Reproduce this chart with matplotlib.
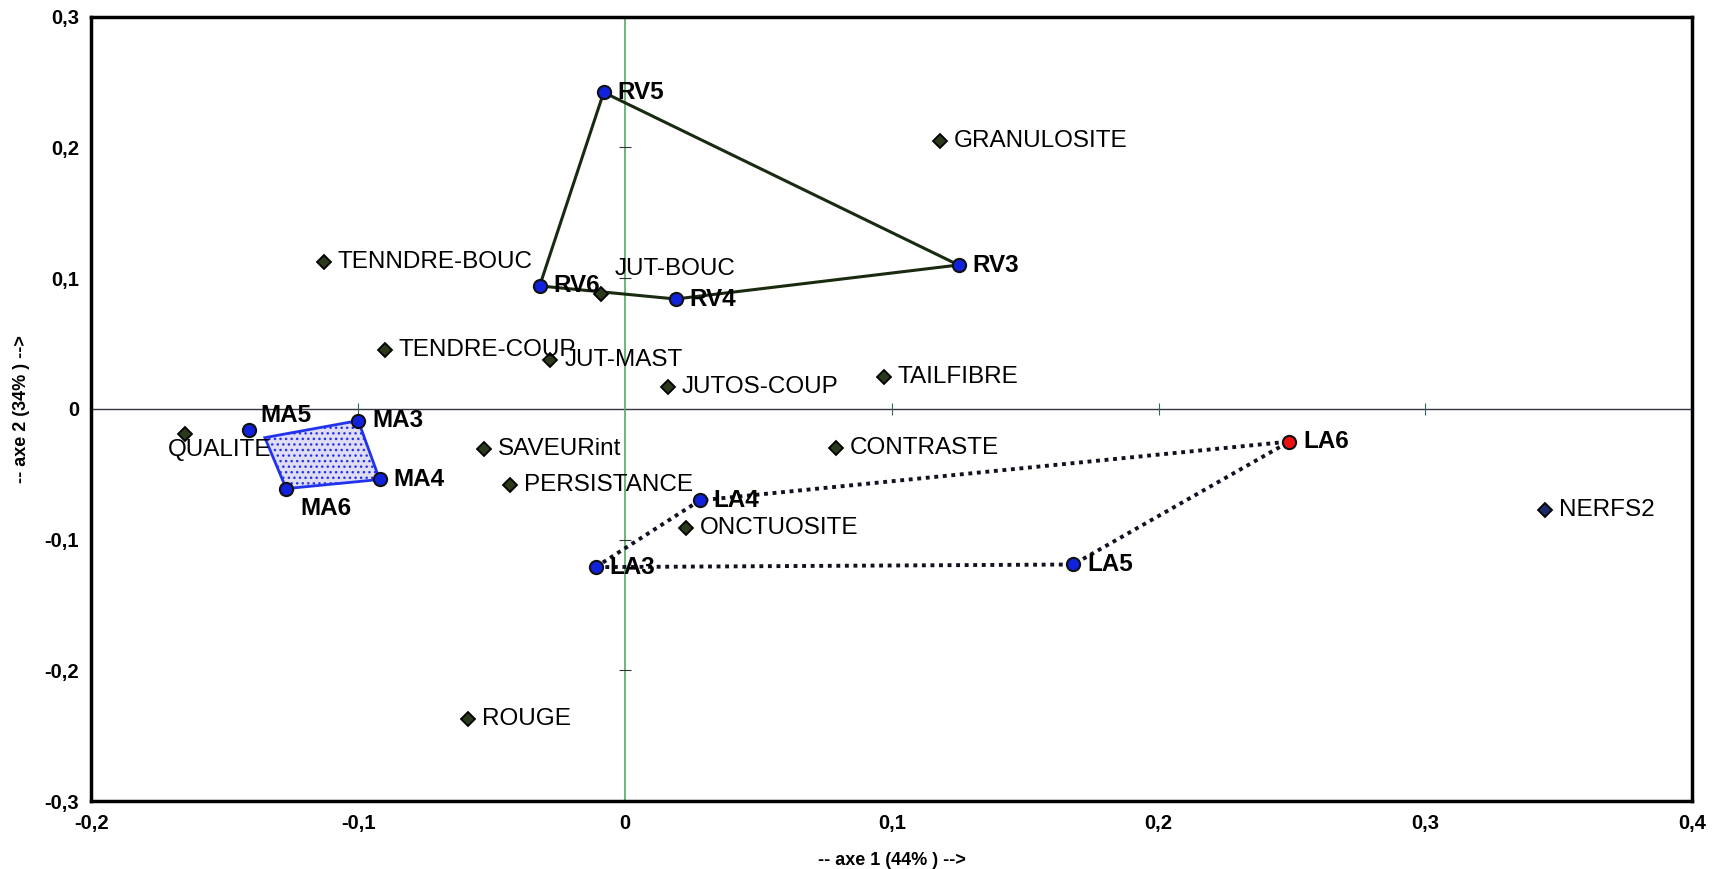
import matplotlib.pyplot as plt
from matplotlib.patches import Polygon

# --- data (axe 1, axe 2) ---
rv_names = ['RV5', 'RV3', 'RV4', 'RV6']
rv_x = [-0.008, 0.125, 0.019, -0.032]
rv_y = [0.242, 0.110, 0.084, 0.094]

ma_names = ['MA5', 'MA3', 'MA4', 'MA6']
ma_x = [-0.141, -0.100, -0.092, -0.127]
ma_y = [-0.016, -0.009, -0.054, -0.061]
# hand-drawn outline around the MA group
ma_poly_x = [-0.135, -0.100, -0.092, -0.127]
ma_poly_y = [-0.022, -0.009, -0.054, -0.061]

la_names = ['LA3', 'LA4', 'LA6', 'LA5']
la_x = [-0.011, 0.028, 0.249, 0.168]
la_y = [-0.121, -0.070, -0.025, -0.119]

var_names = ['GRANULOSITE', 'TENNDRE-BOUC', 'JUT-BOUC', 'TENDRE-COUP', 'JUT-MAST',
             'JUTOS-COUP', 'TAILFIBRE', 'QUALITE', 'SAVEURint', 'PERSISTANCE',
             'CONTRASTE', 'ONCTUOSITE', 'ROUGE', 'NERFS2']
var_x = [0.118, -0.113, -0.009, -0.090, -0.028, 0.016, 0.097, -0.165, -0.053,
         -0.043, 0.079, 0.023, -0.059, 0.345]
var_y = [0.205, 0.112, 0.088, 0.045, 0.037, 0.017, 0.024, -0.019, -0.031,
         -0.058, -0.030, -0.091, -0.237, -0.077]

xticks = [-0.2, -0.1, 0, 0.1, 0.2, 0.3, 0.4]
yticks = [-0.3, -0.2, -0.1, 0, 0.1, 0.2, 0.3]

# label offsets in points (default: right of the marker)
offsets = {'JUT-BOUC': (10, 18, 'left'), 'MA5': (8, 10, 'left'),
           'QUALITE': (-12, -12, 'left'), 'MA6': (10, -14, 'left')}

plt.rcParams['font.family'] = ['Liberation Sans', 'DejaVu Sans']

fig = plt.figure(figsize=(17.25, 8.69), dpi=100)
ax = fig.add_axes([0.053, 0.078, 0.928, 0.903])
ax.set_xlim(-0.2, 0.4)
ax.set_ylim(-0.3, 0.3)

# zero axes with small ticks
ax.axhline(0, color='#333344', lw=1.0, zorder=1)
ax.axvline(0, color='#55aa66', lw=1.2, zorder=1)
ax.plot([t for t in xticks if t != 0], [0] * 6, ls='none', marker='|', ms=8,
        color='#336666', mew=0.8, zorder=1)
ax.plot([0] * 6, [t for t in yticks if t != 0], ls='none', marker='_', ms=8,
        color='#333333', mew=0.8, zorder=1)

# RV group: solid outline
ax.add_patch(Polygon(list(zip(rv_x, rv_y)), closed=True, fill=False,
                     edgecolor='#1a2a10', lw=2.2, zorder=2))
# MA group: blue outline with stippled fill
ax.add_patch(Polygon(list(zip(ma_poly_x, ma_poly_y)), closed=True,
                     facecolor='#e0dcf4', edgecolor='#2233ee', lw=2.0,
                     hatch='...', zorder=2))
# LA group: dotted outline
ax.add_patch(Polygon(list(zip(la_x, la_y)), closed=True, fill=False,
                     edgecolor='#111122', lw=2.8, ls=(0, (1, 1.2)), zorder=2))

# variables: diamonds
for n, x, y in zip(var_names, var_x, var_y):
    fc = '#1a2a6a' if n == 'NERFS2' else '#2a3a1a'
    ax.plot(x, y, marker='D', ms=7.5, mfc=fc, mec='black', mew=1.3, zorder=4)
    dx, dy, ha = offsets.get(n, (10, 0, 'left'))
    ax.annotate(n, (x, y), xytext=(dx, dy), textcoords='offset points',
                ha=ha, va='center', fontsize=17.5, color='black', zorder=5)

# products: circles
for names, xs, ys in [(rv_names, rv_x, rv_y), (ma_names, ma_x, ma_y),
                      (la_names, la_x, la_y)]:
    for n, x, y in zip(names, xs, ys):
        fc = '#ee1111' if n == 'LA6' else '#1122dd'
        ax.plot(x, y, marker='o', ms=9.5, mfc=fc, mec='#111111', mew=1.5, zorder=4)
        dx, dy, ha = offsets.get(n, (10, 0, 'left'))
        ax.annotate(n, (x, y), xytext=(dx, dy), textcoords='offset points',
                    ha=ha, va='center', fontsize=17.5, fontweight='bold',
                    color='black', zorder=5)

def fmt(v):
    return '0' if abs(v) < 1e-9 else f'{v:g}'.replace('.', ',')

ax.set_xticks(xticks)
ax.set_yticks(yticks)
ax.set_xticklabels([fmt(v) for v in xticks], fontsize=14.5, fontweight='bold')
ax.set_yticklabels([fmt(v) for v in yticks], fontsize=14.5, fontweight='bold')
ax.tick_params(length=0, pad=9)
for s in ax.spines.values():
    s.set_linewidth(2.5)
    s.set_color('black')

ax.set_xlabel('-- axe 1 (44% ) -->', fontsize=13, fontweight='bold', labelpad=14)
ax.set_ylabel('-- axe 2 (34% ) -->', fontsize=13, fontweight='bold', labelpad=10)

fig.savefig('out.png', dpi=100)
